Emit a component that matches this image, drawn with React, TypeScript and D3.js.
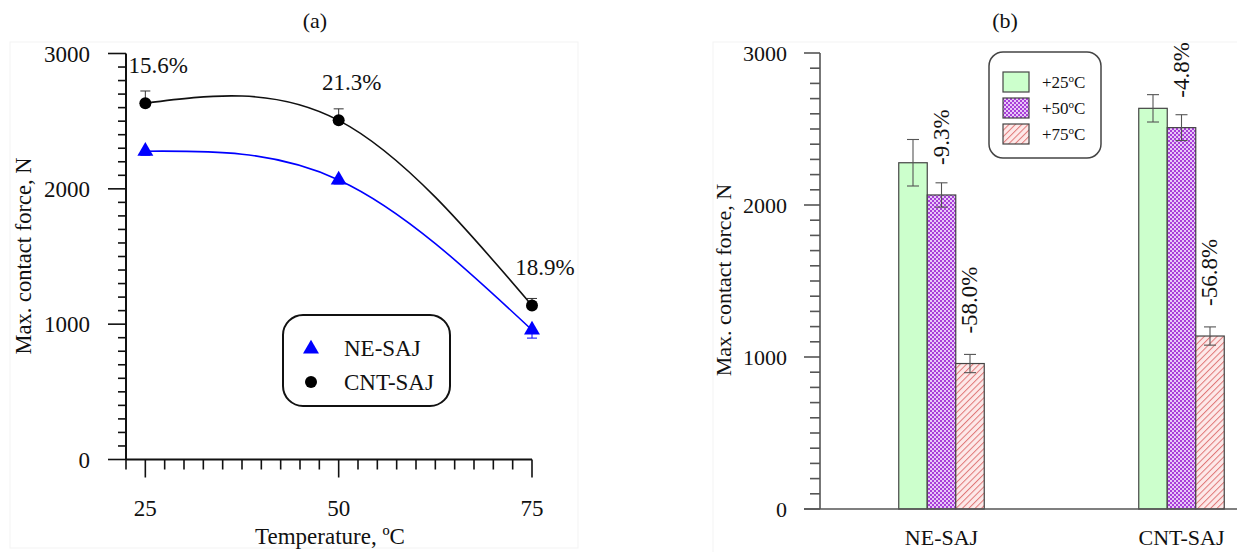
import React from 'react';
import * as d3 from 'd3';

// overall size
const svgWidth = 1237;
const svgHeight = 552;
const fontFamily = '"Liberation Serif", "Times New Roman", serif';

// ---- panel (a): line chart data ----
const temps = [25, 50, 75];
const neSaj = [2278, 2066, 957];
const cntSaj = [2633, 2506, 1138];
const neErr = [30, 30, 60]; // drawn downward
const cntErr = [90, 85, 52]; // drawn upward
const increaseLabels = ['15.6%', '21.3%', '18.9%'];
const tempTicks = [25, 50, 75];

// ---- panel (b): bar chart data ----
const joints = ['NE-SAJ', 'CNT-SAJ'];
const tempGroups = ['+25', '+50', '+75'];
const force25 = [2278, 2636];
const force50 = [2066, 2509];
const force75 = [957, 1138];
const err25 = [153, 90];
const err50 = [80, 85];
const err75 = [60, 60];
const change50 = ['-9.3%', '-4.8%'];
const change75 = ['-58.0%', '-56.8%'];
const forceTicks = [0, 1000, 2000, 3000];

// scales panel (a)
const xA = d3.scaleLinear().domain([22.5, 75]).range([126, 532]);
const yA = d3.scaleLinear().domain([0, 3000]).range([459.5, 53.5]);

// scales panel (b)
const yB = d3.scaleLinear().domain([0, 3000]).range([509, 53]);
const xGroup = d3.scalePoint<string>().domain(joints).range([941.5, 1181.5]);
const xInner = d3.scaleBand<string>().domain(tempGroups).range([-42.75, 42.75]);

const barFills = ['#ccffcc', 'url(#checkPurple)', 'url(#hatchRed)'];

const LineChart = () => {
  const lineGen = d3.line<number>()
    .x((d, i) => xA(temps[i]))
    .y((d) => yA(d))
    .curve(d3.curveNatural);

  const minorY = d3.range(0, 3001, 100);
  const minorX = d3.range(22.5, 75.1, 2.5);
  const tri = d3.symbol().type(d3.symbolTriangle).size(110)();

  return (
    <g fontFamily={fontFamily} fill="#111">
      <text x={315} y={28} fontSize={22} textAnchor="middle">(a)</text>

      {/* y axis */}
      <line x1={126} x2={126} y1={yA(3000)} y2={yA(0)} stroke="#111" strokeWidth={2} />
      {minorY.map((v) => (
        <line key={'ya' + v} x1={v % 1000 === 0 ? 108 : 118} x2={126} y1={yA(v)} y2={yA(v)}
          stroke="#111" strokeWidth={1.6} />
      ))}
      {forceTicks.map((v) => (
        <text key={'yl' + v} x={90} y={yA(v)} dy="0.35em" fontSize={23} textAnchor="end">{v}</text>
      ))}

      {/* x axis */}
      <line x1={126} x2={xA(75)} y1={yA(0)} y2={yA(0)} stroke="#111" strokeWidth={2} />
      {minorX.map((v) => {
        const major = tempTicks.includes(v);
        return (
          <line key={'xa' + v} x1={xA(v)} x2={xA(v)} y1={yA(0)} y2={yA(0) + (major ? 18 : 10)}
            stroke="#111" strokeWidth={1.6} />
        );
      })}
      {tempTicks.map((v) => (
        <text key={'xl' + v} x={xA(v)} y={516} fontSize={23} textAnchor="middle">{v}</text>
      ))}
      <text x={330} y={544} fontSize={23} textAnchor="middle">Temperature, ºC</text>
      <text transform="translate(31,256) rotate(-90)" fontSize={22.5} textAnchor="middle">
        Max. contact force, N
      </text>

      {/* fitted curves */}
      <path d={lineGen(neSaj) || ''} fill="none" stroke="#0000ff" strokeWidth={1.6} />
      <path d={lineGen(cntSaj) || ''} fill="none" stroke="#111" strokeWidth={1.6} />

      {/* error bars */}
      {temps.map((t, i) => (
        <g key={'eb' + t} strokeWidth={1}>
          <line x1={xA(t)} x2={xA(t)} y1={yA(cntSaj[i])} y2={yA(cntSaj[i] + cntErr[i])} stroke="#333" />
          <line x1={xA(t) - 5} x2={xA(t) + 5} y1={yA(cntSaj[i] + cntErr[i])} y2={yA(cntSaj[i] + cntErr[i])} stroke="#333" />
          <line x1={xA(t)} x2={xA(t)} y1={yA(neSaj[i])} y2={yA(neSaj[i] - neErr[i])} stroke="#0000ff" />
          <line x1={xA(t) - 5} x2={xA(t) + 5} y1={yA(neSaj[i] - neErr[i])} y2={yA(neSaj[i] - neErr[i])} stroke="#0000ff" />
        </g>
      ))}

      {/* markers */}
      {temps.map((t, i) => (
        <g key={'mk' + t}>
          <path d={tri || ''} transform={`translate(${xA(t)},${yA(neSaj[i])})`} fill="#0000ff" />
          <circle cx={xA(t)} cy={yA(cntSaj[i])} r={6} fill="#000" />
          <text x={xA(t) + 13} y={yA(cntSaj[i]) - 30} fontSize={23} textAnchor="middle">{increaseLabels[i]}</text>
        </g>
      ))}

      {/* legend */}
      <rect x={283} y={315} width={167} height={91} rx={20} fill="#fff" stroke="#111" strokeWidth={2} />
      <path d={tri || ''} transform="translate(311,349)" fill="#0000ff" />
      <text x={344} y={348} dy="0.35em" fontSize={23}>NE-SAJ</text>
      <circle cx={311} cy={382} r={6} fill="#000" />
      <text x={344} y={382} dy="0.35em" fontSize={23}>CNT-SAJ</text>
    </g>
  );
};

const BarChart = () => {
  const minorY = d3.range(0, 3001, 100);
  const series = [force25, force50, force75];
  const errs = [err25, err50, err75];
  const bw = xInner.bandwidth();

  return (
    <g fontFamily={fontFamily} fill="#111">
      <text x={1005} y={28} fontSize={22} textAnchor="middle">(b)</text>

      {/* y axis */}
      <line x1={820} x2={820} y1={yB(3000)} y2={yB(0)} stroke="#555" strokeWidth={1.6} />
      {minorY.map((v) => (
        <line key={'yb' + v} x1={v % 1000 === 0 ? 804 : 810} x2={820} y1={yB(v)} y2={yB(v)}
          stroke="#555" strokeWidth={1.6} />
      ))}
      {forceTicks.map((v) => (
        <text key={'ybl' + v} x={787} y={yB(v)} dy="0.35em" fontSize={22} textAnchor="end">{v}</text>
      ))}
      <text transform="translate(731,280) rotate(-90)" fontSize={22} textAnchor="middle">
        Max. contact force, N
      </text>

      {/* bars */}
      {joints.map((j, gi) => (
        <g key={j}>
          {tempGroups.map((tg, si) => {
            const x = (xGroup(j) || 0) + (xInner(tg) || 0);
            const v = series[si][gi];
            return (
              <rect key={tg} x={x} y={yB(v)} width={bw} height={yB(0) - yB(v)}
                fill={barFills[si]} stroke="#444" strokeWidth={1.2} />
            );
          })}
          {tempGroups.map((tg, si) => {
            const cx = (xGroup(j) || 0) + (xInner(tg) || 0) + bw / 2;
            const v = series[si][gi];
            const e = errs[si][gi];
            return (
              <g key={'e' + tg} stroke="#555" strokeWidth={1.1}>
                <line x1={cx} x2={cx} y1={yB(v + e)} y2={yB(v - e)} />
                <line x1={cx - 6} x2={cx + 6} y1={yB(v + e)} y2={yB(v + e)} />
                <line x1={cx - 6} x2={cx + 6} y1={yB(v - e)} y2={yB(v - e)} />
              </g>
            );
          })}
          {[1, 2].map((si) => {
            const cx = (xGroup(j) || 0) + (xInner(tempGroups[si]) || 0) + bw / 2;
            const v = series[si][gi];
            const lbl = si === 1 ? change50[gi] : change75[gi];
            return (
              <text key={'l' + si} transform={`translate(${cx + 7},${yB(v) - 30}) rotate(-90)`}
                fontSize={23}>{lbl}</text>
            );
          })}
          <text x={xGroup(j)} y={545} fontSize={22} textAnchor="middle">{j}</text>
        </g>
      ))}

      {/* x axis */}
      <line x1={804} x2={svgWidth} y1={yB(0)} y2={yB(0)} stroke="#555" strokeWidth={1.6} />

      {/* legend */}
      <rect x={989} y={52} width={112} height={106} rx={14} fill="#fff" stroke="#444" strokeWidth={1.5} />
      {tempGroups.map((tg, si) => (
        <g key={'lg' + tg}>
          <rect x={1003} y={72 + si * 26} width={26} height={20} fill={barFills[si]} stroke="#444" strokeWidth={1.2} />
          <text x={1042} y={82 + si * 26} dy="0.35em" fontSize={17}>
            {tg}<tspan fontSize={11} dy="-6">o</tspan><tspan dy="6">C</tspan>
          </text>
        </g>
      ))}
    </g>
  );
};

const App = () => {
  return (
    <svg width={svgWidth} height={svgHeight} style={{ position: 'absolute', left: 0, top: 0, background: '#fff' }}>
      <defs>
        <pattern id="checkPurple" width={4} height={4} patternUnits="userSpaceOnUse">
          <rect width={4} height={4} fill="#e8c8f8" />
          <rect width={2} height={2} fill="#a83ed8" />
          <rect x={2} y={2} width={2} height={2} fill="#a83ed8" />
        </pattern>
        <pattern id="hatchRed" width={4.5} height={4.5} patternUnits="userSpaceOnUse" patternTransform="rotate(45)">
          <rect width={4.5} height={4.5} fill="#fde9e9" />
          <line x1={0} x2={0} y1={0} y2={4.5} stroke="#e07878" strokeWidth={2} />
        </pattern>
      </defs>
      <rect width={svgWidth} height={svgHeight} fill="#fff" />
      {/* faint panel frames */}
      <rect x={10} y={42} width={568} height={506} fill="none" stroke="#f3f3f3" />
      <rect x={713} y={42} width={540} height={520} fill="none" stroke="#f3f3f3" />
      <LineChart />
      <BarChart />
    </svg>
  );
};

export default App;
